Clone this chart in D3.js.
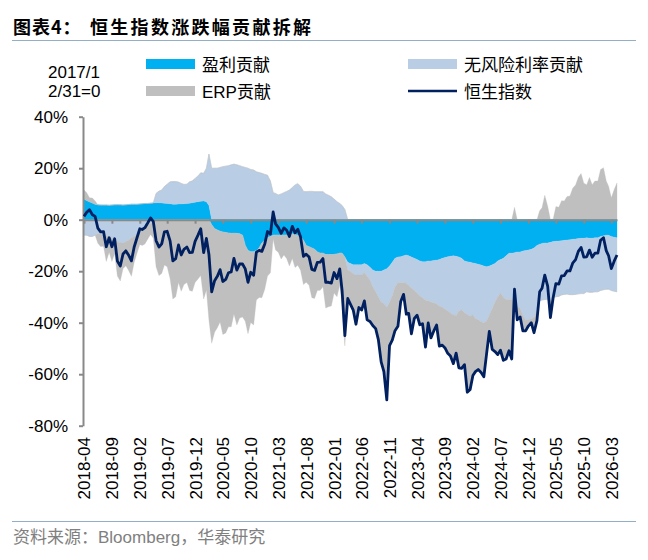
<!DOCTYPE html>
<html>
<head>
<meta charset="utf-8">
<script src="https://cdn.jsdelivr.net/npm/d3@7"></script>
<style>
  body { margin: 0; background: #fff; }
  text { font-family: "Liberation Sans", Arial, "Noto Sans CJK SC", sans-serif; fill: #000; }
</style>
</head>
<body>
<div id="chart"></div>
<script>
// 数据: 半月一个点, 起点 2018-04-16, 单位 %
// 恒生指数 (相对 2017/12/31)
const hsi = [
  1.3, 2.9, 3.9, 1.9, 1.3, -3.3, -4.7, -4.6, -10.5, -7.0, -10.5, -7.4, -16.1, -18.0, -13.3, -12.1, -13.7,
  -16.0, -10.6, -6.9, -3.5, -3.8, -3.1, -1.2, 0.7, -0.7, -8.1, -10.6, -9.4, -4.7, -4.5, -8.2, -16.0, -15.1, -9.8, -13.7, -11.5, -10.6, -12.8, -12.7, -8.4,
  -6.0, -3.5, -12.8, -7.3, -13.5, -28.0, -23.7, -22.0, -19.4, -24.0, -23.2, -20.6, -20.3, -15.0, -19.6, -17.2, -17.2, -19.1, -24.3, -20.4, -21.6, -12.6, -11.9, -12.3,
  -9.4, -4.6, -5.6, 3.0, -1.6, -3.0, -5.3, -3.2, -4.1, -6.5, -2.6, -5.1, -3.7, -6.6, -14.2, -13.4, -14.5, -19.3, -19.7, -16.6, -16.5, -15.1, -24.3, -24.3,
  -24.6, -20.5, -22.9, -19.1, -27.6, -45.0, -30.6, -32.9, -35.1, -40.6, -34.1, -35.1, -31.5, -38.9, -39.5, -41.1, -42.3, -46.7, -55.2, -59.0, -70.0, -48.9, -46.8, -43.1,
  -41.4, -31.9, -29.0, -36.7, -36.4, -44.3, -38.3, -37.1, -40.8, -40.4, -49.5, -40.1, -45.9, -43.3, -40.9, -49.1, -48.7, -49.8, -51.9, -52.9, -55.9, -51.8, -57.5, -57.7,
  -56.3, -67.0, -65.9, -60.5, -59.0, -58.2, -59.3, -61.0, -52.1, -43.4, -50.4, -51.2, -52.4, -50.7, -54.6, -54.1, -50.9, -54.1, -27.0, -38.9, -37.8, -43.2, -43.2, -41.3,
  -40.0, -43.9, -39.2, -28.0, -26.6, -21.5, -25.8, -38.0, -30.2, -24.8, -25.0, -21.8, -21.7, -19.9, -19.9, -16.9, -15.5, -12.3, -10.8, -14.5, -14.4, -11.8, -14.6, -13.0,
  -13.0, -8.0, -7.0, -12.0, -14.0, -19.0, -16.0, -13.7
];
// 盈利贡献
const earnings = [
  8.0, 7.5, 7.0, 6.5, 6.0, 5.8, 5.7, 5.7, 5.7, 5.6, 5.7, 5.8, 5.8, 5.8, 5.7, 5.8, 5.9,
  6.0, 6.0, 6.0, 6.1, 6.2, 6.3, 6.3, 6.4, 6.5, 6.6, 6.6, 6.5, 6.4, 6.3, 6.2, 6.0, 6.0, 6.1, 6.1, 6.2, 6.3, 6.4, 6.6, 6.8,
  7.0, 7.2, 7.3, 7.0, 5.5, -2.0, -3.5, -4.0, -4.5, -4.8, -5.0, -5.2, -5.3, -5.3, -5.3, -5.5, -6.0, -10.0, -12.0, -12.4, -12.4, -12.0, -11.0, -9.0,
  -8.0, -7.0, -6.5, -6.0, -6.0, -6.0, -6.0, -6.0, -6.0, -5.8, -5.5, -5.8, -6.0, -6.5, -8.0, -10.0, -10.5, -11.0, -11.5, -12.5, -13.0, -13.0, -13.5, -13.5,
  -13.5, -13.5, -13.3, -13.0, -13.0, -14.5, -16.5, -17.0, -17.5, -17.5, -17.5, -17.5, -17.0, -17.5, -18.5, -19.5, -20.0, -20.0, -20.0, -19.5, -19.0, -18.0, -16.5, -15.0,
  -14.5, -14.4, -14.0, -13.7, -14.0, -14.5, -15.0, -15.5, -16.0, -16.3, -16.3, -16.0, -16.0, -15.8, -15.7, -15.5, -15.0, -14.7, -14.4, -14.2, -14.0, -14.2, -14.5, -15.0,
  -16.0, -16.3, -16.5, -16.8, -17.0, -17.3, -17.6, -18.0, -18.3, -18.0, -17.5, -17.0, -16.0, -15.5, -15.0, -14.0, -13.0, -13.0, -12.8, -12.5, -12.5, -12.2, -12.0, -11.8,
  -11.5, -11.0, -10.0, -9.5, -9.2, -9.0, -9.0, -8.8, -8.5, -8.4, -8.3, -8.2, -8.0, -7.9, -7.8, -7.6, -7.5, -7.3, -7.2, -7.2, -7.0, -7.2, -7.2, -7.0,
  -7.0, -6.5, -6.2, -6.0, -6.0, -6.5, -6.8, -7.0
];
// 无风险利率贡献
const riskFree = [
  -6.0, -6.0, -6.5, -6.5, -6.0, -5.5, -5.5, -6.0, -6.0, -6.5, -7.0, -7.5, -8.5, -9.0, -9.0, -8.5, -8.0,
  -7.0, -6.5, -5.5, -4.5, -3.5, -3.0, -2.0, -1.5, -1.0, 3.6, 4.5, 5.0, 6.5, 7.5, 8.5, 8.8, 8.8, 8.5, 8.0, 7.5, 7.5, 8.3, 8.5, 9.2,
  10.0, 11.0, 10.7, 13.0, 20.0, 20.0, 20.0, 20.0, 20.3, 20.6, 20.8, 21.0, 21.3, 21.6, 21.3, 21.0, 20.6, 20.3, 20.0, 19.5, 19.3, 18.6, 18.3, 18.0,
  17.6, 17.3, 15.0, 10.5, 10.2, 9.6, 10.0, 10.5, 11.0, 11.5, 12.5, 13.5, 14.0, 13.0, 11.0, 10.9, 11.0, 11.0, 10.9, 10.9, 10.9, 10.9, 10.0, 9.5,
  8.9, 8.0, 7.0, 6.3, 5.5, 4.0, -3.0, -3.0, -3.5, -4.0, -4.0, -4.0, -3.5, -4.5, -5.0, -6.5, -8.0, -10.0, -12.0, -13.0, -15.0, -14.0, -13.0, -11.0,
  -10.0, -10.0, -10.5, -11.0, -11.5, -12.0, -12.5, -13.0, -13.5, -14.0, -15.0, -15.5, -16.0, -16.5, -17.0, -18.0, -19.0, -20.0, -21.0, -22.0, -23.0, -23.0, -21.0, -20.0,
  -20.0, -20.5, -21.0, -20.0, -21.5, -21.5, -22.0, -22.0, -21.0, -19.0, -17.0, -15.0, -14.0, -13.0, -15.0, -17.0, -18.0, -18.0, -19.0, -21.0, -22.0, -25.0, -27.0, -27.0,
  -27.0, -27.0, -25.0, -22.0, -22.0, -22.0, -22.0, -22.5, -22.0, -21.5, -21.5, -21.0, -21.0, -21.0, -21.3, -21.5, -21.5, -21.5, -21.5, -21.5, -21.0, -21.0, -21.0, -21.0,
  -21.0, -21.0, -21.0, -21.0, -21.0, -21.0, -21.0, -21.0
];
// ERP贡献
const erp = [
  3.5, 3.0, 1.5, 1.9, 1.3, -3.6, -4.9, -4.3, -10.2, -6.1, -9.2, -5.7, -13.4, -14.8, -10.0, -9.4, -11.6,
  -15.0, -10.1, -7.4, -5.1, -6.5, -6.4, -5.5, -4.2, -6.2, -18.3, -21.7, -20.9, -17.6, -18.3, -22.9, -30.8, -29.9, -24.4, -27.8, -25.2, -24.4, -27.5, -27.8, -24.4,
  -23.0, -21.7, -30.8, -27.3, -39.0, -46.0, -40.2, -38.0, -35.2, -39.8, -39.0, -36.4, -36.3, -31.3, -35.6, -32.7, -31.8, -29.4, -32.3, -27.5, -28.5, -19.2, -19.2, -21.3,
  -19.0, -14.9, -14.1, -1.5, -5.8, -6.6, -9.3, -7.7, -9.1, -12.2, -9.6, -12.8, -11.7, -13.1, -17.2, -14.3, -15.0, -19.3, -19.1, -15.0, -14.4, -13.0, -20.8, -20.3,
  -20.0, -15.0, -16.6, -12.4, -20.1, -34.5, -11.1, -12.9, -14.1, -19.1, -12.6, -13.6, -11.0, -16.9, -16.0, -15.1, -14.3, -16.7, -23.2, -26.5, -36.0, -16.9, -17.3, -17.1,
  -16.9, -7.5, -4.5, -12.0, -10.9, -17.8, -10.8, -8.6, -11.3, -10.1, -18.2, -8.6, -13.9, -11.0, -8.2, -15.6, -14.7, -15.1, -16.5, -16.7, -18.9, -14.6, -22.0, -22.7,
  -20.3, -30.2, -28.4, -23.7, -20.5, -19.4, -19.7, -21.0, -12.8, -6.4, -15.9, -19.2, -22.4, -22.2, -24.6, -23.1, -19.9, -23.1, 4.8, -5.4, -3.3, -6.0, -4.2, -2.5,
  -1.5, -5.9, -4.2, 3.5, 4.6, 9.5, 5.2, -6.7, 0.3, 5.1, 4.8, 7.4, 7.3, 9.0, 9.2, 12.2, 13.5, 16.5, 17.9, 14.2, 13.6, 16.4, 13.6, 15.0,
  15.0, 19.5, 20.2, 15.0, 13.0, 8.5, 11.8, 14.3
];
const yTicks = [-80, -60, -40, -20, 0, 20, 40];
const xTickLabels = ['2018-04', '2018-09', '2019-02', '2019-07', '2019-12', '2020-05', '2020-10',
  '2021-03', '2021-08', '2022-01', '2022-06', '2022-11', '2023-04', '2023-09', '2024-02',
  '2024-07', '2024-12', '2025-05', '2025-10', '2026-03'];

// 日期: 每月 16 日与次月 1 日
const dates = hsi.map((v, i) => i % 2 === 0
  ? new Date(2018, 3 + i / 2, 16)
  : new Date(2018, 3 + (i + 1) / 2, 1));

// 正负分开堆叠 (同 Excel 堆积柱)
const keys = ['earn', 'rate', 'erp'];
const rows = dates.map((d, i) => {
  const r = { date: d };
  [earnings[i], riskFree[i], erp[i]].forEach((v, k) => {
    r[keys[k] + 'Pos'] = Math.max(v, 0);
    r[keys[k] + 'Neg'] = Math.min(v, 0);
  });
  return r;
});

const colors = { earn: '#00B0F0', rate: '#B9CDE5', erp: '#BFBFBF', hsi: '#002060' };
const axisColor = '#898989';
const ruleColor = '#93AFC8';

const svg = d3.select('#chart').append('svg')
  .attr('width', 648).attr('height', 560);

// 标题
const title = svg.append('text').attr('y', 34)
  .style('font-family', '"Noto Sans CJK SC", sans-serif')
  .style('font-weight', 'bold').style('font-size', '18px');
title.append('tspan').attr('x', 13).style('letter-spacing', '1px').text('图表4：');
title.append('tspan').attr('x', 90).style('letter-spacing', '2.3px').text('恒生指数涨跌幅贡献拆解');
svg.append('line').attr('x1', 12).attr('x2', 636).attr('y1', 40.5).attr('y2', 40.5)
  .attr('stroke', ruleColor).attr('stroke-width', 1.2);

// 图例
svg.append('text').attr('x', 48).attr('y', 78).style('font-size', '17px').text('2017/1');
svg.append('text').attr('x', 48).attr('y', 97).style('font-size', '17px').text('2/31=0');
const legend = [
  { name: '盈利贡献', color: colors.earn, x: 146, y: 59, type: 'rect' },
  { name: '无风险利率贡献', color: colors.rate, x: 408, y: 59, type: 'rect' },
  { name: 'ERP贡献', color: colors.erp, x: 146, y: 86, type: 'rect' },
  { name: '恒生指数', color: colors.hsi, x: 408, y: 86, type: 'line' }
];
legend.forEach(d => {
  if (d.type === 'rect') {
    svg.append('rect').attr('x', d.x).attr('y', d.y).attr('width', 49).attr('height', 10).attr('fill', d.color);
  } else {
    svg.append('line').attr('x1', d.x).attr('x2', d.x + 49).attr('y1', d.y + 5).attr('y2', d.y + 5)
      .attr('stroke', d.color).attr('stroke-width', 2.5);
  }
  svg.append('text').attr('x', d.x + 56).attr('y', d.y + 11.5).style('font-size', '17px').text(d.name);
});

// 比例尺
const x = d3.scaleTime()
  .domain([new Date(2018, 3, 16), new Date(2026, 3, 16)])
  .range([84, 617]);
const y = d3.scaleLinear().domain([-80, 40]).range([425.7, 116.7]);

// 堆积面积
const posSeries = d3.stack().keys(keys.map(k => k + 'Pos'))(rows);
const negSeries = d3.stack().keys(keys.map(k => k + 'Neg'))(rows);
const area = d3.area()
  .x(d => x(d.data.date))
  .y0(d => y(d[0]))
  .y1(d => y(d[1]));
svg.append('g').attr('class', 'areas')
  .selectAll('path').data(posSeries.concat(negSeries)).join('path')
  .attr('fill', d => colors[d.key.replace(/Pos|Neg/, '')])
  .attr('stroke', d => colors[d.key.replace(/Pos|Neg/, '')])
  .attr('stroke-width', 0.3)
  .attr('d', area);

// y 轴
const yAxis = d3.axisLeft(y).tickValues(yTicks).tickFormat(d => d + '%')
  .tickSizeInner(4).tickSizeOuter(0).tickPadding(11);
const yAxisDraw = svg.append('g').attr('transform', 'translate(83,0)').call(yAxis);
yAxisDraw.select('.domain').attr('stroke', axisColor).attr('stroke-width', 2);
yAxisDraw.selectAll('.tick line').attr('stroke', axisColor).attr('stroke-width', 2);
yAxisDraw.selectAll('text').style('font-size', '17px').attr('fill', '#000')
  .style('font-family', '"Liberation Sans", Arial, sans-serif');

// 零线 + 刻度
const tickDates = xTickLabels.map(s => d3.timeParse('%Y-%m-%d')(s + '-16'));
const xAxis = d3.axisBottom(x).tickValues(tickDates).tickFormat('')
  .tickSizeInner(4).tickSizeOuter(0);
const xAxisDraw = svg.append('g').attr('transform', `translate(0,${y(0)})`).call(xAxis);
xAxisDraw.select('.domain').attr('stroke', axisColor).attr('stroke-width', 2);
xAxisDraw.selectAll('.tick line').attr('stroke', axisColor).attr('stroke-width', 2);

// x 轴标签 (底部, 竖排)
const xLabelAxis = d3.axisBottom(x).tickValues(tickDates)
  .tickFormat((d, i) => xTickLabels[i]).tickSize(0);
const xLabelDraw = svg.append('g').attr('transform', 'translate(0,437)').call(xLabelAxis);
xLabelDraw.select('.domain').remove();
xLabelDraw.selectAll('text')
  .attr('transform', 'rotate(-90)')
  .attr('x', 0).attr('y', 0).attr('dy', '0.35em')
  .style('text-anchor', 'end')
  .style('font-size', '17px').attr('fill', '#000')
  .style('font-family', '"Liberation Sans", Arial, sans-serif');

// 恒生指数线
const line = d3.line().x((d, i) => x(dates[i])).y(d => y(d));
svg.append('path').datum(hsi)
  .attr('fill', 'none')
  .attr('stroke', colors.hsi)
  .attr('stroke-width', 2.8)
  .attr('stroke-linejoin', 'round')
  .attr('d', line);

// 资料来源
svg.append('line').attr('x1', 12).attr('x2', 636).attr('y1', 521.5).attr('y2', 521.5)
  .attr('stroke', ruleColor).attr('stroke-width', 1.2);
svg.append('text').attr('x', 13).attr('y', 543)
  .style('font-size', '17px').style('fill', '#808080')
  .text('资料来源：Bloomberg，华泰研究');
</script>
</body>
</html>
